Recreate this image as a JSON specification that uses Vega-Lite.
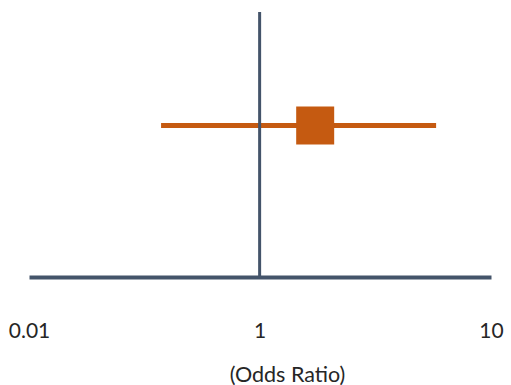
{
  "$schema": "https://vega.github.io/schema/vega-lite/v6.json",
  "width": 462,
  "height": 265,
  "autosize": {"type": "none"},
  "padding": {"left": 29, "top": 12, "right": 20, "bottom": 108},
  "background": "white",
  "config": {"view": {"stroke": null}},
  "data": {"values": [{"study": "Study", "row": 1, "or": 1.94, "lo": 0.231, "hi": 6.35}]},
  "layer": [
    {
      "mark": {"type": "rule", "color": "#C55A11", "strokeWidth": 5},
      "encoding": {
        "x": {
          "field": "lo",
          "type": "quantitative",
          "scale": {"type": "pow", "exponent": 0.21, "domain": [0.01, 10], "nice": false, "zero": false},
          "axis": {
            "values": [0.01, 1, 10],
            "labelExpr": "'' + datum.value",
            "grid": false,
            "ticks": false,
            "domainColor": "#44546A",
            "domainWidth": 4,
            "labelFont": "Lato",
            "labelFontSize": 21,
            "labelColor": "#262626",
            "labelPadding": 43,
            "labelFlush": false,
            "title": "(Odds Ratio)",
            "titleFont": "Lato",
            "titleFontSize": 21.5,
            "titleFontWeight": "normal",
            "titleColor": "#262626",
            "titleX": 258,
            "titleY": 87,
            "titleBaseline": "top"
          }
        },
        "x2": {"field": "hi"},
        "y": {
          "field": "row",
          "type": "quantitative",
          "scale": {"domain": [0, 1.75], "nice": false},
          "axis": null
        }
      }
    },
    {
      "mark": {"type": "rule", "color": "#44546A", "strokeWidth": 3},
      "encoding": {"x": {"datum": 1}}
    },
    {
      "mark": {"type": "point", "shape": "square", "filled": true, "opacity": 1, "color": "#C55A11", "size": 1444},
      "encoding": {
        "x": {"field": "or", "type": "quantitative"},
        "y": {"field": "row", "type": "quantitative"}
      }
    }
  ]
}
